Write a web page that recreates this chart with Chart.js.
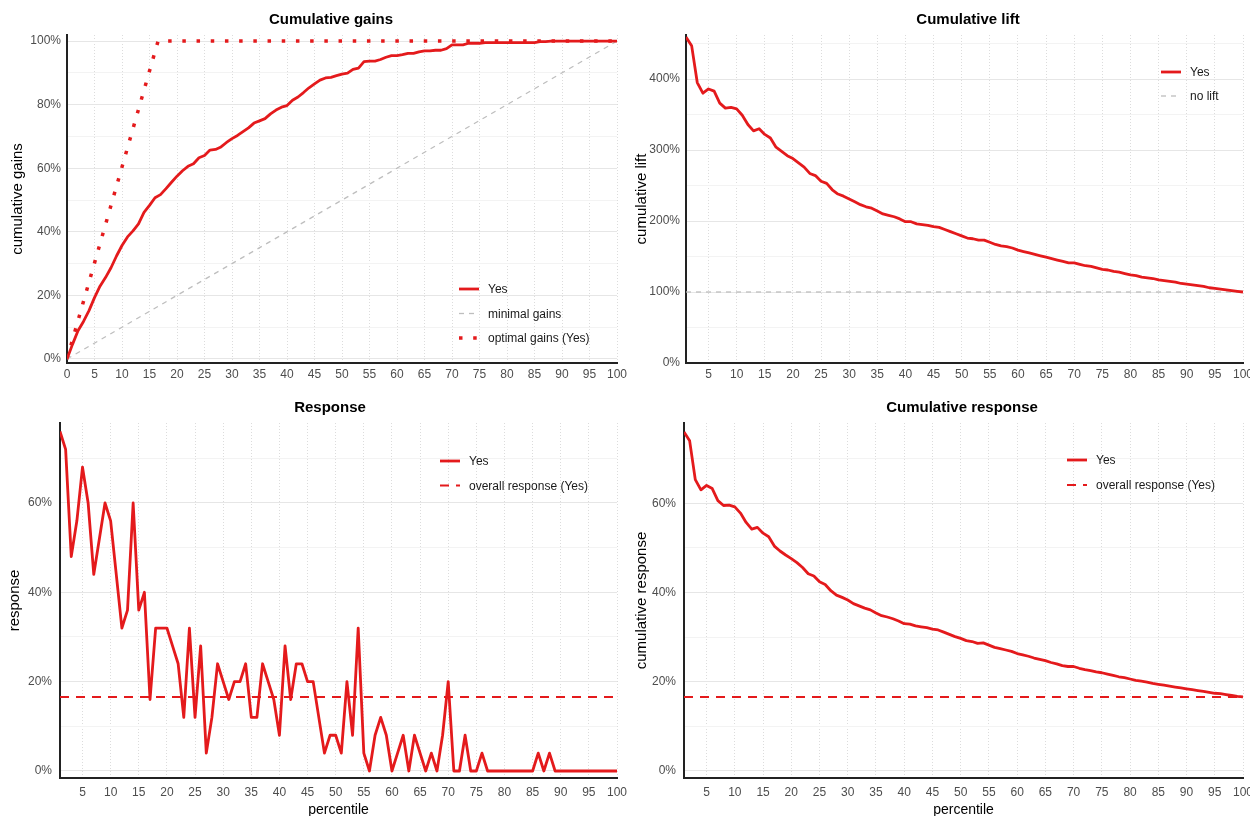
<!DOCTYPE html>
<html>
<head>
<meta charset="utf-8">
<script src="https://cdn.jsdelivr.net/npm/chart.js@4"></script>
<style>
  body { margin: 0; background: #fff; width: 1250px; height: 816px; position: relative; overflow: hidden; }
  canvas { position: absolute; }
</style>
</head>
<body>
<canvas id="gains" width="635" height="395" style="left:0;top:0"></canvas>
<canvas id="lift" width="625" height="395" style="left:625px;top:0"></canvas>
<canvas id="resp" width="635" height="421" style="left:0;top:395px"></canvas>
<canvas id="cumresp" width="625" height="421" style="left:625px;top:395px"></canvas>
<script>
// === data ===
const percentiles = Array.from({ length: 100 }, (_, i) => i + 1);
const gainsPercentiles = [0, ...percentiles];

// response per percentile (%)
const response = [
  76, 72, 48, 56, 68, 60, 44, 52, 60, 56,
  44, 32, 36, 60, 36, 40, 16, 32, 32, 32,
  28, 24, 12, 32, 12, 28, 4, 12, 24, 20,
  16, 20, 20, 24, 12, 12, 24, 20, 16, 8,
  28, 16, 24, 24, 20, 20, 12, 4, 8, 8,
  4, 20, 8, 32, 4, 0, 8, 12, 8, 0,
  4, 8, 0, 8, 4, 0, 4, 0, 8, 20,
  0, 0, 8, 0, 0, 4, 0, 0, 0, 0,
  0, 0, 0, 0, 0, 4, 0, 4, 0, 0,
  0, 0, 0, 0, 0, 0, 0, 0, 0, 0
];

// cumulative response (%)
const cumResponse = [
  76.0, 74.0, 65.3, 63.0, 64.0, 63.3, 60.6, 59.5, 59.6, 59.2,
  57.8, 55.7, 54.2, 54.6, 53.3, 52.5, 50.4, 49.3, 48.4, 47.6,
  46.7, 45.6, 44.2, 43.7, 42.4, 41.8, 40.4, 39.4, 38.9, 38.3,
  37.5, 37.0, 36.5, 36.1, 35.4, 34.8, 34.5, 34.1, 33.6, 33.0,
  32.9, 32.5, 32.3, 32.1, 31.8, 31.6, 31.1, 30.6, 30.1, 29.7,
  29.2, 29.0, 28.6, 28.7, 28.2, 27.7, 27.4, 27.1, 26.8, 26.3,
  26.0, 25.7, 25.3, 25.0, 24.7, 24.3, 24.0, 23.6, 23.4, 23.4,
  23.0, 22.7, 22.5, 22.2, 22.0, 21.7, 21.4, 21.1, 20.9, 20.6,
  20.3, 20.1, 19.9, 19.6, 19.4, 19.2, 19.0, 18.8, 18.6, 18.4,
  18.2, 18.0, 17.8, 17.6, 17.4, 17.3, 17.1, 16.9, 16.7, 16.6
];

// cumulative lift (%)
const cumLift = [
  459, 447, 395, 380, 386, 383, 366, 359, 360, 358,
  349, 336, 327, 330, 322, 317, 304, 298, 292, 288,
  282, 276, 267, 264, 256, 253, 244, 238, 235, 231,
  227, 223, 220, 218, 214, 210, 208, 206, 203, 199,
  199, 196, 195, 194, 192, 191, 188, 185, 182, 179,
  176, 175, 173, 173, 170, 167, 165, 164, 162, 159,
  157, 155, 153, 151, 149, 147, 145, 143, 141, 141,
  139, 137, 136, 134, 132, 131, 129, 128, 126, 124,
  123, 121, 120, 119, 117, 116, 115, 114, 112, 111,
  110, 109, 108, 106, 105, 104, 103, 102, 101, 100
];

// cumulative gains (%), percentile 0..100
const cumGains = [
  0, 4.6, 8.9, 11.8, 15.2, 19.3, 22.9, 25.6, 28.7, 32.4, 35.7,
  38.4, 40.3, 42.5, 46.1, 48.3, 50.7, 51.7, 53.6, 55.6, 57.5,
  59.2, 60.6, 61.4, 63.3, 64.0, 65.7, 65.9, 66.7, 68.1, 69.3,
  70.3, 71.5, 72.7, 74.2, 74.9, 75.6, 77.1, 78.3, 79.2, 79.7,
  81.4, 82.4, 83.8, 85.3, 86.5, 87.7, 88.4, 88.6, 89.1, 89.6,
  89.9, 91.1, 91.5, 93.5, 93.7, 93.7, 94.2, 94.9, 95.4, 95.4,
  95.7, 96.1, 96.1, 96.6, 96.9, 96.9, 97.1, 97.1, 97.6, 98.8,
  98.8, 98.8, 99.3, 99.3, 99.3, 99.5, 99.5, 99.5, 99.5, 99.5,
  99.5, 99.5, 99.5, 99.5, 99.5, 99.8, 99.8, 100, 100, 100,
  100, 100, 100, 100, 100, 100, 100, 100, 100, 100
];

const overallResponse = 16.56;
const noLift = 100;
const minimalX = [0, 100];
const minimalY = [0, 100];
const optimalX = [0, 16.56, 100];
const optimalY = [0, 100, 100];

// tick labels
const gainsXTicks = [0, 5, 10, 15, 20, 25, 30, 35, 40, 45, 50, 55, 60, 65, 70, 75, 80, 85, 90, 95, 100];
const pctXTicks = [5, 10, 15, 20, 25, 30, 35, 40, 45, 50, 55, 60, 65, 70, 75, 80, 85, 90, 95, 100];
const gainsYTicks = [0, 20, 40, 60, 80, 100];
const gainsYMinor = [10, 30, 50, 70, 90];
const liftYTicks = [0, 100, 200, 300, 400];
const liftYMinor = [50, 150, 250, 350, 450];
const respYTicks = [0, 20, 40, 60];
const respYMinor = [10, 30, 50, 70];

// === styling ===
const RED = '#E41A1C';
const GREY = '#BEBEBE';
const TICK = '#4D4D4D';
const FONT = "'Liberation Sans', Arial, sans-serif";

const xy = (xs, ys) => ys.map((y, i) => ({ x: xs[i], y }));

const yesLine = (xs, ys) => ({
  label: 'Yes', data: xy(xs, ys), borderColor: RED, borderWidth: 2.8,
  borderJoinStyle: 'round', pointRadius: 0, fill: false
});

// title + legend drawn inside the panel, the way the ggplot original does it
const panelDecor = {
  id: 'panelDecor',
  afterDraw(chart, args, o) {
    const ctx = chart.ctx;
    ctx.save();
    ctx.font = 'bold 15px ' + FONT;
    ctx.fillStyle = '#000';
    ctx.textAlign = 'center';
    ctx.textBaseline = 'middle';
    ctx.fillText(o.title, o.titleX, o.titleY);
    ctx.font = '12px ' + FONT;
    ctx.textAlign = 'left';
    chart.data.datasets.forEach((ds, k) => {
      const y = o.legendY + k * o.legendGap;
      ctx.strokeStyle = ds.borderColor;
      ctx.lineWidth = ds.borderWidth;
      ctx.lineCap = 'butt';
      ctx.setLineDash(ds.borderDash || []);
      ctx.beginPath();
      ctx.moveTo(o.legendX, y);
      ctx.lineTo(o.legendX + 20, y);
      ctx.stroke();
      ctx.setLineDash([]);
      ctx.fillStyle = '#1A1A1A';
      ctx.fillText(ds.label, o.legendX + 29, y + 1);
    });
    ctx.restore();
  }
};

function makeScales(o) {
  const major = o.yTicks;
  const all = [...o.yTicks, ...o.yMinor].sort((a, b) => a - b);
  return {
    x: {
      type: 'linear', min: o.xMin, max: o.xMax,
      afterBuildTicks: s => { s.ticks = o.xTicks.map(v => ({ value: v })); },
      afterFit: s => { s.height = o.bottom; s.paddingLeft = 0; s.paddingRight = 0; },
      grid: { color: '#DCDCDC', lineWidth: 1, drawTicks: false },
      border: { display: true, color: '#222', width: 2, dash: [1, 2] },
      ticks: { color: TICK, font: { family: FONT, size: 12 }, padding: o.xPad, maxRotation: 0, autoSkip: false },
      title: { display: !!o.xTitle, text: o.xTitle || '', color: '#000', font: { family: FONT, size: 14 }, padding: { top: 0, bottom: -3 } }
    },
    y: {
      type: 'linear', min: o.yMin, max: o.yMax,
      afterBuildTicks: s => { s.ticks = all.map(v => ({ value: v })); },
      afterFit: s => { s.width = o.left; s.paddingTop = 0; s.paddingBottom = 0; },
      grid: {
        color: c => (c.tick && !major.includes(c.tick.value)) ? '#F3F3F3' : '#E6E6E6',
        lineWidth: 1, drawTicks: false
      },
      border: { display: true, color: '#222', width: 2 },
      ticks: { color: TICK, font: { family: FONT, size: 12 }, padding: o.yPad, callback: v => major.includes(v) ? v + '%' : '' },
      title: { display: true, text: o.yTitle, color: '#000', font: { family: FONT, size: 15 }, padding: { top: o.yTitlePad, bottom: 0 } }
    }
  };
}

function panel(id, datasets, scaleOpts, layoutPad, decor) {
  new Chart(document.getElementById(id), {
    type: 'line',
    data: { datasets },
    plugins: [panelDecor],
    options: {
      responsive: false, animation: false, devicePixelRatio: 1,
      layout: { padding: layoutPad },
      scales: makeScales(scaleOpts),
      plugins: { legend: { display: false }, tooltip: { enabled: false }, panelDecor: decor }
    }
  });
}

// === Cumulative gains ===
panel('gains', [
  yesLine(gainsPercentiles, cumGains),
  { label: 'minimal gains', data: xy(minimalX, minimalY), borderColor: GREY, borderWidth: 1.3, borderDash: [5, 5], pointRadius: 0 },
  { label: 'optimal gains (Yes)', data: xy(optimalX, optimalY), borderColor: RED, borderWidth: 3.5, borderDash: [3.5, 10.7], borderCapStyle: 'butt', pointRadius: 0 }
], {
  xMin: 0, xMax: 100, xTicks: gainsXTicks, yMin: -1.26, yMax: 101.9, yTicks: gainsYTicks, yMinor: gainsYMinor,
  yTitle: 'cumulative gains', left: 67, bottom: 32, xPad: 4, yPad: 6, yTitlePad: 9
}, { top: 35, right: 18, left: 0, bottom: 0 },
{ title: 'Cumulative gains', titleX: 331, titleY: 20, legendX: 459, legendY: 289, legendGap: 24.5 });

// === Cumulative lift ===
panel('lift', [
  yesLine(percentiles, cumLift),
  { label: 'no lift', data: xy([1, 100], [noLift, noLift]), borderColor: GREY, borderWidth: 1.3, borderDash: [5, 5], pointRadius: 0 }
], {
  xMin: 1, xMax: 100, xTicks: pctXTicks, yMin: 0, yMax: 462, yTicks: liftYTicks, yMinor: liftYMinor,
  yTitle: 'cumulative lift', left: 61, bottom: 32, xPad: 4, yPad: 6, yTitlePad: 8
}, { top: 35, right: 7, left: 0, bottom: 0 },
{ title: 'Cumulative lift', titleX: 343, titleY: 20, legendX: 536, legendY: 72, legendGap: 24 });

// === Response ===
panel('resp', [
  yesLine(percentiles, response),
  { label: 'overall response (Yes)', data: xy([1, 100], [overallResponse, overallResponse]), borderColor: RED, borderWidth: 2, borderDash: [9, 7], pointRadius: 0 }
], {
  xMin: 1, xMax: 100, xTicks: pctXTicks, yMin: -1.57, yMax: 77.9, yTicks: respYTicks, yMinor: respYMinor,
  yTitle: 'response', xTitle: 'percentile', left: 60, bottom: 38, xPad: 7, yPad: 8, yTitlePad: 6
}, { top: 28, right: 18, left: 0, bottom: 0 },
{ title: 'Response', titleX: 330, titleY: 13, legendX: 440, legendY: 66, legendGap: 24.5 });

// === Cumulative response ===
panel('cumresp', [
  yesLine(percentiles, cumResponse),
  { label: 'overall response (Yes)', data: xy([1, 100], [overallResponse, overallResponse]), borderColor: RED, borderWidth: 2, borderDash: [9, 7], pointRadius: 0 }
], {
  xMin: 1, xMax: 100, xTicks: pctXTicks, yMin: -1.6, yMax: 78, yTicks: respYTicks, yMinor: respYMinor,
  yTitle: 'cumulative response', xTitle: 'percentile', left: 59, bottom: 38, xPad: 7, yPad: 8, yTitlePad: 8
}, { top: 28, right: 7, left: 0, bottom: 0 },
{ title: 'Cumulative response', titleX: 337, titleY: 13, legendX: 442, legendY: 65, legendGap: 25 });
</script>
</body>
</html>
